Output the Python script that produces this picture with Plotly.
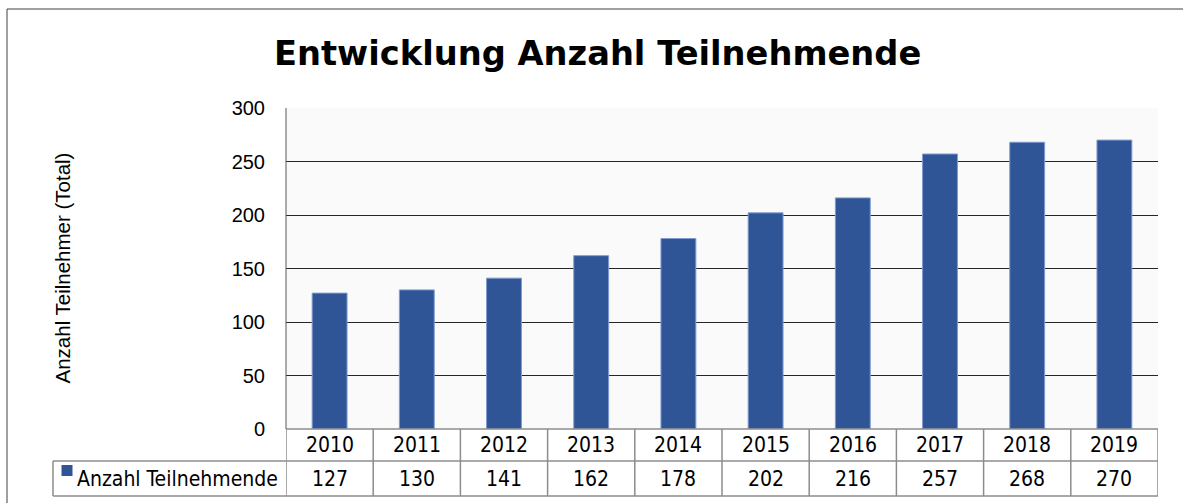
import plotly.graph_objects as go

years = ["2010", "2011", "2012", "2013", "2014", "2015", "2016", "2017", "2018", "2019"]
participants = [127, 130, 141, 162, 178, 202, 216, 257, 268, 270]
series_name = "Anzahl Teilnehmende"
title_text = "Entwicklung Anzahl Teilnehmende"
y_title = "Anzahl Teilnehmer (Total)"
y_ticks = [0, 50, 100, 150, 200, 250, 300]

W, H = 1183, 503
BAR = "#2F5597"
GRID = "#262626"
TBL = "#8C8C8C"

def px_x(p):
    return p / W

def px_y(p):
    return 1 - p / H

x_left, x_right = 286, 1158
y_top, y_bot = 108, 429
row1_bot, row2_bot = 461, 496
leg_left = 53

idx = list(range(len(years)))

fig = go.Figure()
fig.add_trace(go.Bar(
    x=idx, y=participants, width=0.4,
    marker=dict(color=BAR, line=dict(color="#7F9BD0", width=1)),
    name=series_name, showlegend=False, hoverinfo="y",
))

shapes = []
# outer frame
shapes.append(dict(type="rect", xref="paper", yref="paper",
                   x0=px_x(7), x1=px_x(W + 10), y0=px_y(9), y1=px_y(H + 10),
                   line=dict(color="#404040", width=1), fillcolor="rgba(0,0,0,0)", layer="below"))
# table horizontal lines
for yy, x0 in [(y_bot, x_left), (row1_bot, leg_left), (row2_bot, leg_left)]:
    shapes.append(dict(type="line", xref="paper", yref="paper",
                       x0=px_x(x0), x1=px_x(x_right), y0=px_y(yy), y1=px_y(yy),
                       line=dict(color=TBL, width=1.5)))
# legend cell left border
shapes.append(dict(type="line", xref="paper", yref="paper",
                   x0=px_x(leg_left), x1=px_x(leg_left), y0=px_y(row1_bot), y1=px_y(row2_bot),
                   line=dict(color=TBL, width=1.5)))
# plot area left border (dark)
shapes.append(dict(type="line", xref="paper", yref="paper",
                   x0=px_x(x_left), x1=px_x(x_left), y0=px_y(y_top), y1=px_y(y_bot),
                   line=dict(color="#595959", width=1)))
# table vertical separators
for i in range(len(years) + 1):
    shapes.append(dict(type="line", xref="x", yref="paper",
                       x0=i - 0.5, x1=i - 0.5, y0=px_y(y_bot), y1=px_y(row2_bot),
                       line=dict(color=TBL, width=1.5)))
# legend key
shapes.append(dict(type="rect", xref="paper", yref="paper",
                   x0=px_x(61.5), x1=px_x(72.5), y0=px_y(465), y1=px_y(476),
                   line=dict(width=0), fillcolor=BAR))

TFONT = dict(family="DejaVu Sans Condensed", size=21, color="black")
annotations = []
for i, (yr, v) in enumerate(zip(years, participants)):
    annotations.append(dict(x=i, y=px_y((y_bot + row1_bot) / 2), xref="x", yref="paper",
                            text=yr, showarrow=False, font=TFONT,
                            xanchor="center", yanchor="middle"))
    annotations.append(dict(x=i, y=px_y((row1_bot + row2_bot) / 2), xref="x", yref="paper",
                            text=str(v), showarrow=False, font=TFONT,
                            xanchor="center", yanchor="middle"))
annotations.append(dict(x=px_x(75), y=px_y((row1_bot + row2_bot) / 2), xref="paper", yref="paper",
                        text=series_name, showarrow=False, font=TFONT,
                        xanchor="left", yanchor="middle"))
annotations.append(dict(x=px_x(597), y=px_y(53), xref="paper", yref="paper",
                        text="<b>" + title_text + "</b>", showarrow=False,
                        font=dict(family="DejaVu Sans", size=33.7, color="black"),
                        xanchor="center", yanchor="middle"))
annotations.append(dict(x=px_x(62), y=px_y((y_top + y_bot) / 2), xref="paper", yref="paper",
                        text=y_title, showarrow=False, textangle=-90,
                        font=dict(family="Liberation Sans, Arial", size=20.5, color="black"),
                        xanchor="center", yanchor="middle"))

fig.update_layout(
    template="none",
    width=W, height=H,
    margin=dict(l=0, r=0, t=0, b=0, autoexpand=False),
    paper_bgcolor="white",
    plot_bgcolor="#FAFAFA",
    bargap=0.6,
    showlegend=False,
    shapes=shapes,
    annotations=annotations,
    xaxis=dict(domain=[px_x(x_left), px_x(x_right)], range=[-0.5, len(years) - 0.5],
               automargin=False,
               showticklabels=False, showgrid=False, zeroline=False, showline=False, ticks=""),
    yaxis=dict(domain=[px_y(y_bot), px_y(y_top)], range=[0, 300], tickvals=y_ticks,
               automargin=False,
               showgrid=True, gridcolor=GRID, gridwidth=1, zeroline=False, showline=False,
               ticks="", ticklabelstandoff=20,
               tickfont=dict(family="Liberation Sans, Arial", size=20, color="black")),
)

fig.write_html("out.html",
               config={"displayModeBar": False},
               post_script="document.body.style.margin='0';document.body.style.overflow='hidden';")
